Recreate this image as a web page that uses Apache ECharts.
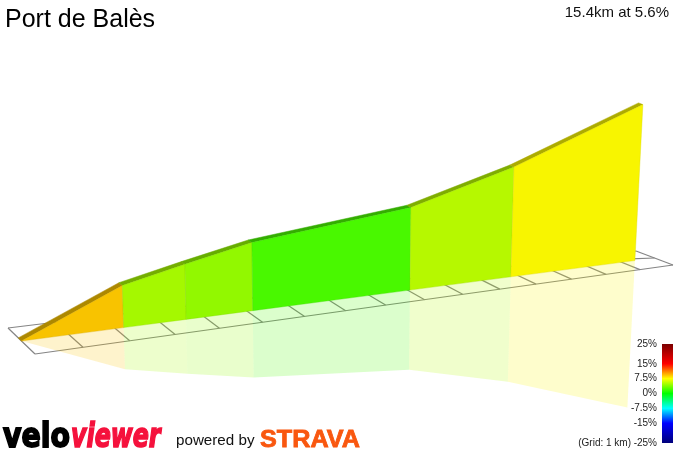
<!DOCTYPE html>
<html><head><meta charset="utf-8">
<style>html,body{margin:0;padding:0;background:#fff}#c{width:674px;height:451px}</style>
<script src="https://cdn.jsdelivr.net/npm/echarts@6/dist/echarts.min.js"></script>
</head><body><div id="c"></div>
<script>
// ---- data ----
const segmentEndKm   = [0, 2.18, 3.58, 5.13, 9.05, 11.78, 15.4];
const climbMetres    = [0, 229, 300, 371, 450, 598, 850];
const gradientPct    = [9.1, 5.0, 4.4, 2.2, 5.5, 7.6];
const gridKm         = [0,1,2,3,4,5,6,7,8,9,10,11,12,13,14,15,16];
const scaleTicks     = [25, 15, 7.5, 0, -7.5, -15, -25];

// ---- colour scale ----
const colourStops = [[25,'#7a0000'],[15,'#ff0000'],[7.5,'#ffff00'],[0,'#00ff00'],[-7.5,'#00ffff'],[-15,'#0000ff'],[-25,'#00007a']];
function hex(c){return [1,3,5].map(i=>parseInt(c.substr(i,2),16));}
function gradientRGB(v){
  for(let i=0;i<colourStops.length-1;i++){
    const a=colourStops[i],b=colourStops[i+1];
    if(v<=a[0]&&v>=b[0]){
      const t=(a[0]-v)/(a[0]-b[0]),A=hex(a[1]),B=hex(b[1]);
      return A.map((x,k)=>x+(B[k]-x)*t);
    }
  }
  return [0,0,0];
}
function rgba(c,f,al){return 'rgba('+c.map(x=>Math.round(x*f)).join(',')+','+al+')';}

// ---- oblique perspective of the ground plane ----
const BACK=[[8,328],[636,251]], FRONT=[[35,354],[673,265]];
const PERSP=0.22, KM_LEN=16, M_PER_UNIT=5.45, WALL_T=0.5, WALL_BACK_T=0.38;
function along(km){const s=km/KM_LEN;return s*(1+PERSP)/(1+PERSP*s);}
function ground(km,t){
  const f=along(km);
  const b=[BACK[0][0]+(BACK[1][0]-BACK[0][0])*f,BACK[0][1]+(BACK[1][1]-BACK[0][1])*f];
  const d=[FRONT[0][0]+(FRONT[1][0]-FRONT[0][0])*f,FRONT[0][1]+(FRONT[1][1]-FRONT[0][1])*f];
  return [b[0]+(d[0]-b[0])*t,b[1]+(d[1]-b[1])*t];
}
function project(km,t,m){
  const g=ground(km,t),h=m/M_PER_UNIT,tilt=-0.045+0.1*km/KM_LEN;
  return [g[0]+h*tilt,g[1]-h];
}
function mirrored(km,m){return project(km,WALL_T,-m*(1-0.06*km/KM_LEN));}
const segments=gradientPct.map((g,i)=>i);

function polygon(api,pts,style){
  return {type:'polygon',shape:{points:pts.map(p=>api.coord(p))},style:style,silent:true};
}
function lineEl(api,a,b){
  const A=api.coord(a),B=api.coord(b);
  return {type:'line',shape:{x1:A[0],y1:A[1],x2:B[0],y2:B[1]},style:{stroke:'#858585',lineWidth:1.2,fill:null},silent:true};
}
const SANS='"Liberation Sans", Arial, sans-serif';
function txt(text,x,y,font,fill,extra){
  extra=extra||{};
  return {type:'text',x:x,y:y,silent:true,scaleX:extra.scaleX||1,scaleY:extra.scaleY||1,
    style:Object.assign({text:text,font:font,fill:fill,verticalAlign:'middle',align:extra.align||'left'},extra.style||{})};
}
const sceneAxis={type:'value',show:false,min:0};

const chart=echarts.init(document.getElementById('c'),null,{width:674,height:451});
chart.setOption({
  animation:false,
  backgroundColor:'#fff',
  grid:[{left:0,top:0,width:674,height:451},{left:662,top:344,width:11,height:99}],
  xAxis:[Object.assign({},sceneAxis,{max:674}),{type:'value',show:false,min:0,max:1,gridIndex:1}],
  yAxis:[Object.assign({},sceneAxis,{max:451,inverse:true}),{
    type:'value',gridIndex:1,min:-25,max:25,
    axisLine:{show:false},axisTick:{show:false},splitLine:{show:false},
    axisLabel:{customValues:scaleTicks,margin:5,fontSize:10,color:'#222',fontFamily:'Liberation Sans',
      formatter:v=>v+'%'}
  }],
  series:[
    { // ground grid
      type:'custom',coordinateSystem:'cartesian2d',data:gridKm,silent:true,clip:false,
      renderItem:(p,api)=>{
        const km=gridKm[p.dataIndex],kids=[lineEl(api,ground(km,0),ground(km,1))];
        if(p.dataIndex===0){
          kids.push(lineEl(api,ground(0,0),ground(16,0)),lineEl(api,ground(0,1),ground(16,1)));
          kids.push(lineEl(api,ground(segmentEndKm[6],WALL_BACK_T),ground(16,WALL_T)));
        }
        return {type:'group',children:kids};
      }
    },
    { // reflection
      type:'custom',coordinateSystem:'cartesian2d',data:segments,silent:true,clip:false,
      renderItem:(p,api)=>{
        const i=p.dataIndex,a=segmentEndKm[i],b=segmentEndKm[i+1];
        const c=rgba(gradientRGB(gradientPct[i]),0.973,0.2);
        return polygon(api,[ground(a,WALL_T),ground(b,WALL_T),
          mirrored(b,climbMetres[i+1]),mirrored(a,climbMetres[i])],{fill:c});
      }
    },
    { // top band (thickness of the road)
      type:'custom',coordinateSystem:'cartesian2d',data:segments,silent:true,clip:false,
      renderItem:(p,api)=>{
        const i=p.dataIndex,a=segmentEndKm[i],b=segmentEndKm[i+1];
        const c=rgba(gradientRGB(gradientPct[i]),0.68,1);
        return polygon(api,[project(a,WALL_T,climbMetres[i]),project(b,WALL_T,climbMetres[i+1]),
          project(b,WALL_BACK_T,climbMetres[i+1]),project(a,WALL_BACK_T,climbMetres[i])],{fill:c,stroke:c,lineWidth:.5});
      }
    },
    { // wall
      type:'custom',coordinateSystem:'cartesian2d',data:segments,silent:true,clip:false,
      renderItem:(p,api)=>{
        const i=p.dataIndex,a=segmentEndKm[i],b=segmentEndKm[i+1],C=gradientRGB(gradientPct[i]);
        return polygon(api,[project(a,WALL_T,climbMetres[i]),project(b,WALL_T,climbMetres[i+1]),
          ground(b,WALL_T),ground(a,WALL_T)],{fill:rgba(C,0.973,1),stroke:rgba(C,0.85,0.45),lineWidth:.8});
      }
    },
    { // colour scale
      type:'custom',coordinateSystem:'cartesian2d',xAxisIndex:1,yAxisIndex:1,data:[0],silent:true,
      renderItem:(p,api)=>{
        const a=api.coord([0,25]),b=api.coord([1,-25]);
        return {type:'rect',shape:{x:a[0],y:a[1],width:b[0]-a[0],height:b[1]-a[1]},
          style:{fill:new echarts.graphic.LinearGradient(0,0,0,1,
            colourStops.map(s=>({offset:(25-s[0])/50,color:s[1]})))},silent:true};
      }
    }
  ],
  graphic:[
    txt('Port de Balès',5,20,'25px '+SANS,'#000'),
    txt('15.4km at 5.6%',669,13,'15px '+SANS,'#111',{align:'right'}),
    txt('(Grid: 1 km)',631,443,'10px '+SANS,'#222',{align:'right'}),
    txt('velo',3,438,'bold 33px "DejaVu Sans"','#000',{scaleX:.86,style:{stroke:'#000',lineWidth:1.8}}),
    txt('viewer',71,438,'italic bold 33px "DejaVu Sans"','#f5113c',{scaleX:.72,style:{stroke:'#f5113c',lineWidth:1.6}}),
    txt('powered by',176,441,'15.2px '+SANS,'#111'),
    txt('STRAVA',260,440,'bold 24px '+SANS,'#f9570f',{scaleX:1.05,style:{stroke:'#f9570f',lineWidth:.8}})
  ]
});
</script></body></html>
